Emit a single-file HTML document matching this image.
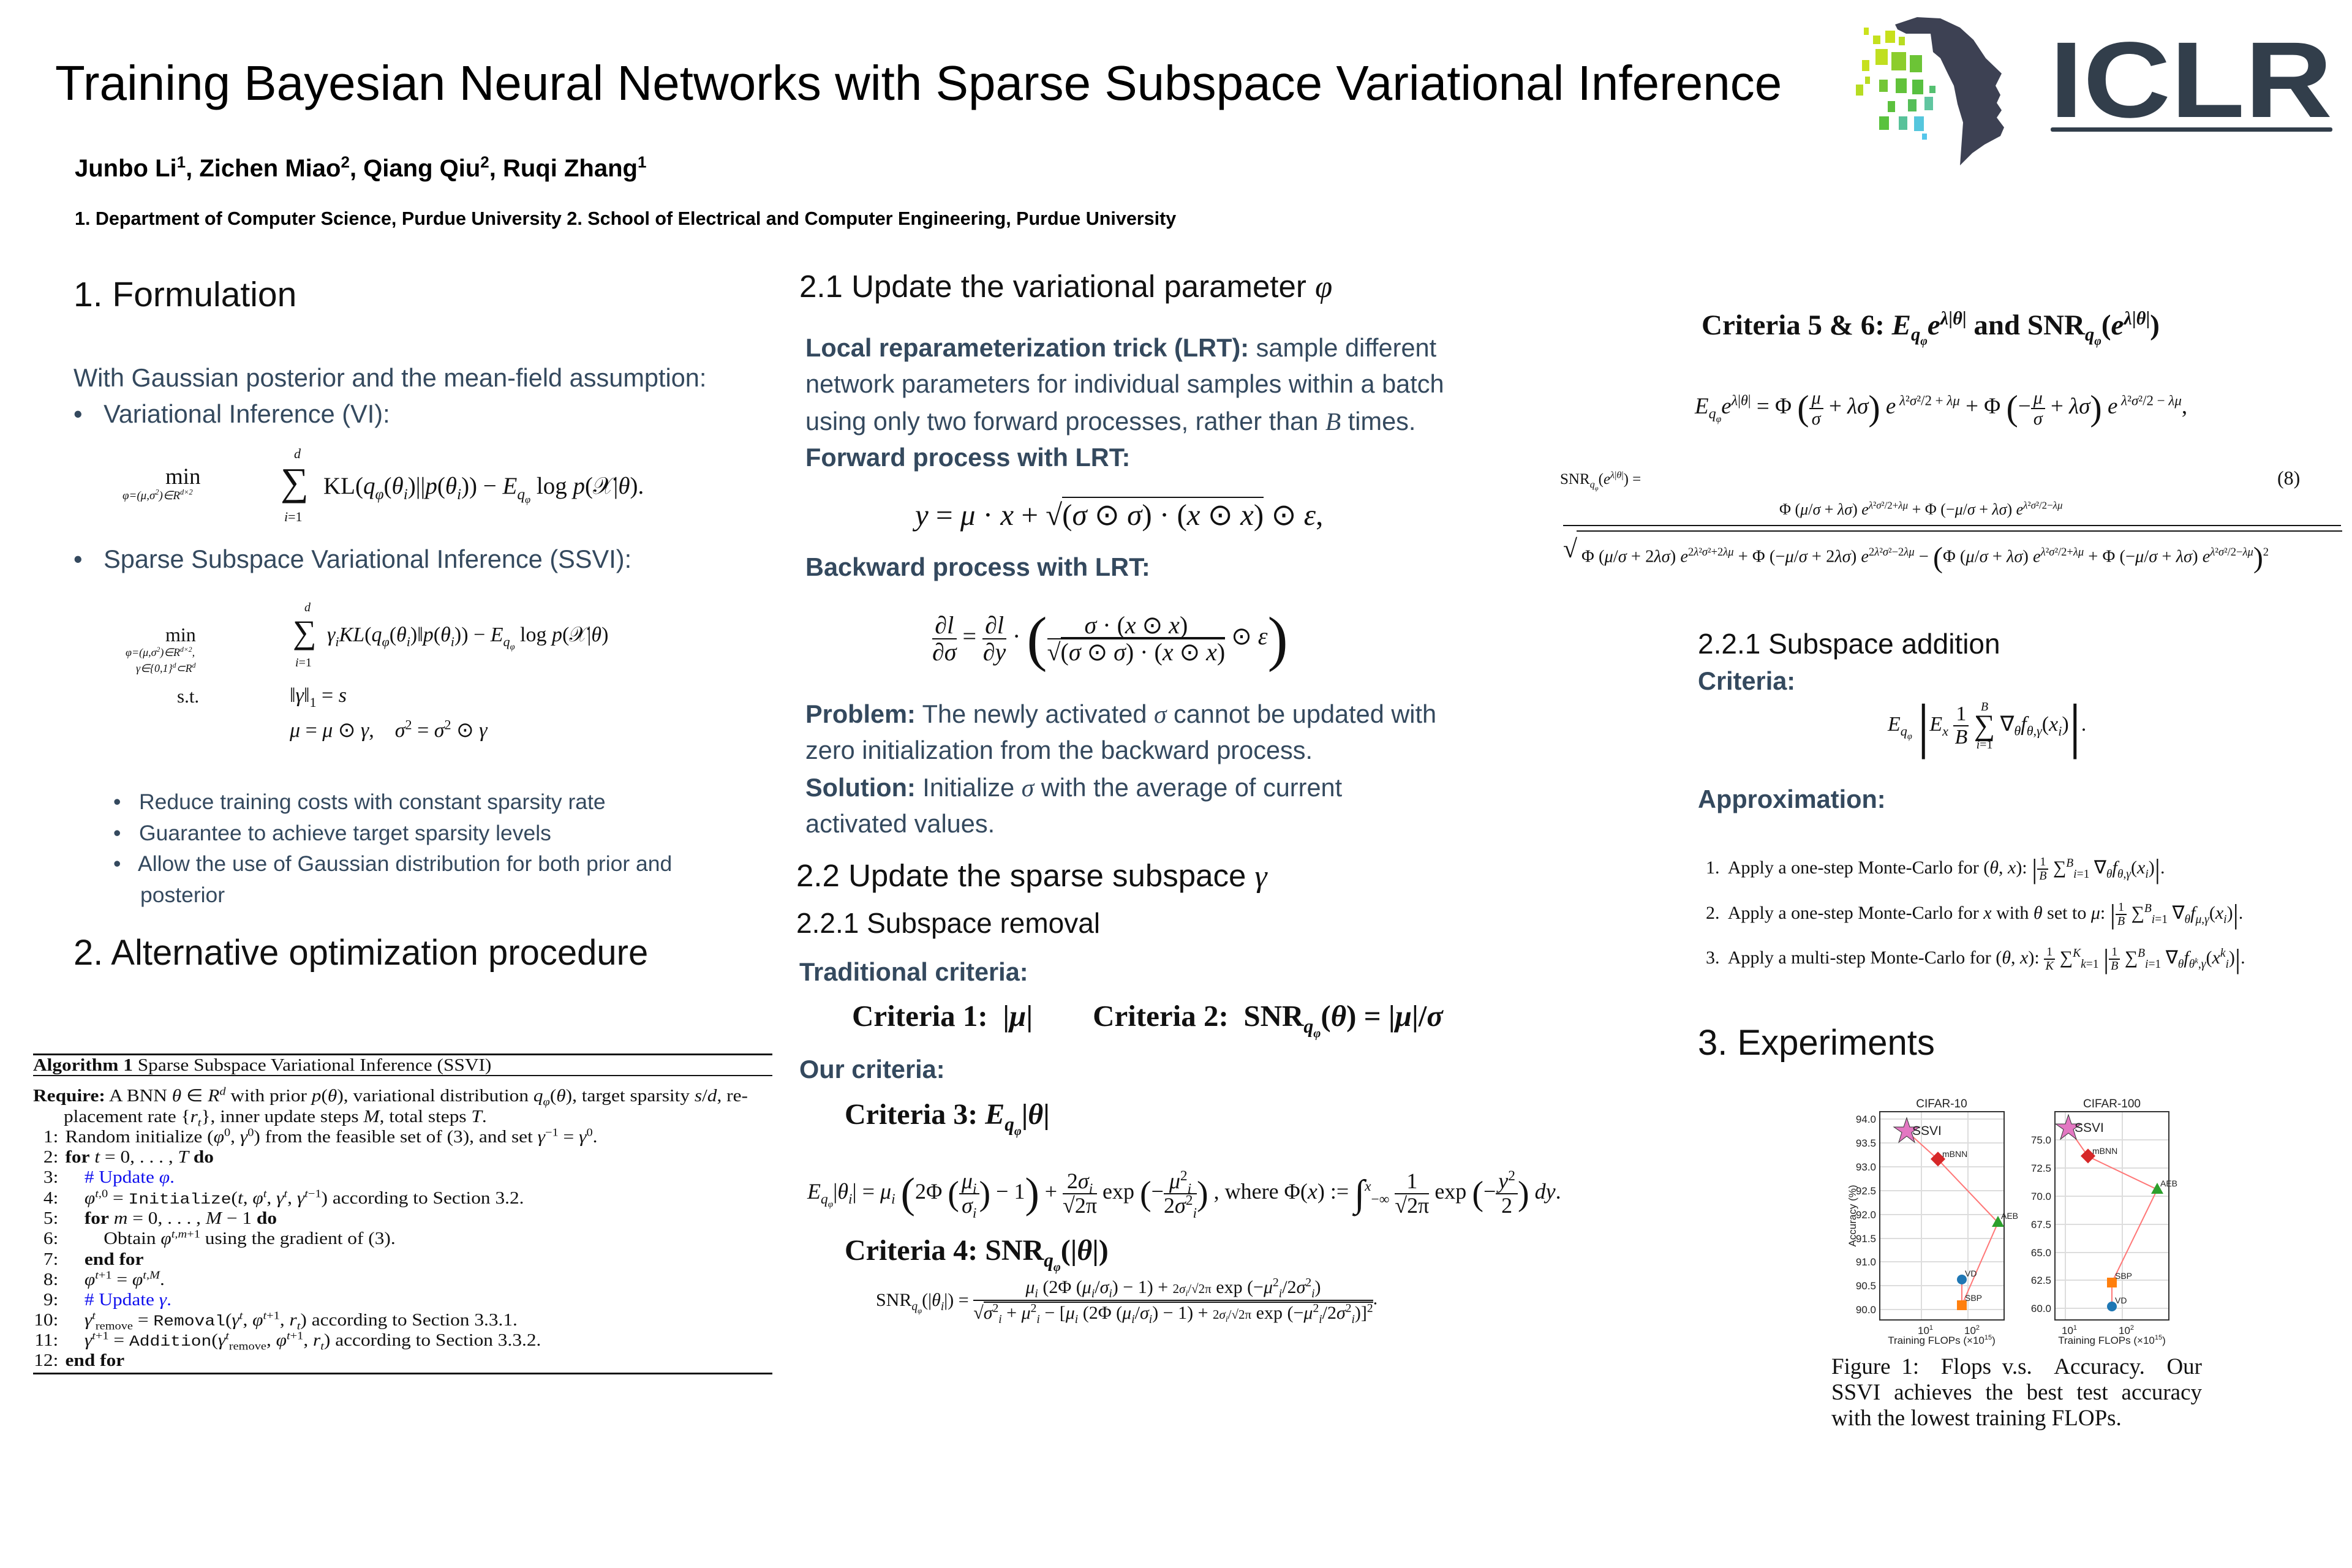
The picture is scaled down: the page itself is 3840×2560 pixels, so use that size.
<!DOCTYPE html>
<html><head><meta charset="utf-8">
<style>
html,body{margin:0;padding:0;background:#fff}
body{width:3840px;height:2560px;position:relative;overflow:hidden;font-family:"Liberation Sans",sans-serif;color:#2e3d4a}
.t{position:absolute;white-space:nowrap;line-height:1}
.s{font-family:"Liberation Serif",serif;color:#111}
.i{font-style:italic}
.b{font-weight:bold}
.h{color:#34495e;font-weight:bold}
.fr{display:inline-flex;flex-direction:column;vertical-align:middle;text-align:center;line-height:1.05}
.fr>span:first-child{border-bottom:2px solid #111;padding:0 4px}
sub,sup{font-size:65%;line-height:0}
.alg{position:absolute;left:54px;font-family:"Liberation Serif",serif;font-size:28px;color:#111;white-space:nowrap;line-height:1;transform:scaleX(1.12);transform-origin:0 0}
.ln{display:inline-block;width:44px;text-align:right;margin-right:10px}
.blue{color:#1010ee}
.mono{font-family:"Liberation Mono",monospace;font-size:25px}
.rule{position:absolute;background:#111}
.cap{position:absolute;left:2990px;width:605px;font-family:"Liberation Serif",serif;font-size:37px;color:#111;text-align:justify;text-align-last:justify;line-height:1;white-space:nowrap}
</style></head><body>

<!-- Title -->
<div class="t" style="left:90px;top:96px;font-size:80px;color:#000">Training Bayesian Neural Networks with Sparse Subspace Variational Inference</div>
<div class="t b" style="left:122px;top:255px;font-size:40px;color:#000">Junbo Li<sup>1</sup>, Zichen Miao<sup>2</sup>, Qiang Qiu<sup>2</sup>, Ruqi Zhang<sup>1</sup></div>
<div class="t b" style="left:122px;top:342px;font-size:30.5px;color:#000">1. Department of Computer Science, Purdue University 2. School of Electrical and Computer Engineering, Purdue University</div>

<!-- Logo -->
<svg style="position:absolute;left:0;top:0" width="3840" height="2560">
 <path d="M3094,40 L3130,28 L3168,30 L3200,45 L3222,65 L3242,95 L3268,120 L3258,140 L3266,155 L3260,168 L3268,180 L3260,192 L3272,208 L3266,222 L3240,236 L3220,250 L3200,270 L3205,200 L3196,170 L3190,140 L3180,120 L3168,95 L3156,85 L3152,55 L3112,55 L3098,48 Z" fill="#3d4153"/>
 <g>
  <rect x="3043" y="45" width="8" height="12" fill="#cbe21c"/>
  <rect x="3058" y="58" width="12" height="14" fill="#c4e01e"/>
  <rect x="3078" y="50" width="16" height="20" fill="#c8e01b"/>
  <rect x="3100" y="60" width="10" height="14" fill="#b8dc22"/>
  <rect x="3062" y="80" width="20" height="26" fill="#c0df20"/>
  <rect x="3088" y="85" width="24" height="30" fill="#8ccd2c"/>
  <rect x="3118" y="90" width="20" height="28" fill="#6cc436"/>
  <rect x="3040" y="98" width="12" height="18" fill="#c6e01c"/>
  <rect x="3045" y="125" width="8" height="12" fill="#b9dc22"/>
  <rect x="3030" y="138" width="12" height="18" fill="#b6dc22"/>
  <rect x="3068" y="130" width="14" height="20" fill="#73c635"/>
  <rect x="3095" y="128" width="18" height="24" fill="#62c23a"/>
  <rect x="3122" y="130" width="18" height="24" fill="#58c040"/>
  <rect x="3150" y="140" width="10" height="12" fill="#55c070"/>
  <rect x="3082" y="165" width="12" height="18" fill="#5cc13d"/>
  <rect x="3115" y="162" width="14" height="20" fill="#55be58"/>
  <rect x="3142" y="158" width="14" height="22" fill="#60c5a0"/>
  <rect x="3068" y="190" width="16" height="22" fill="#5ac23e"/>
  <rect x="3100" y="190" width="14" height="22" fill="#58c29a"/>
  <rect x="3125" y="190" width="16" height="24" fill="#55c6dd"/>
  <rect x="3138" y="218" width="8" height="10" fill="#55c6ea"/>
 </g>
 <text x="3346" y="191" font-family="Liberation Sans" font-weight="bold" font-size="176" fill="#323e4b" textLength="462" lengthAdjust="spacingAndGlyphs">ICLR</text>
 <rect x="3348" y="208" width="460" height="7" rx="3" fill="#323e4b"/>

 <!-- charts -->
 <g font-family="Liberation Sans" fill="#222">
  <g stroke="#ddd" stroke-width="2">
   <line x1="3069" x2="3272" y1="1827" y2="1827"/><line x1="3069" x2="3272" y1="1866" y2="1866"/>
   <line x1="3069" x2="3272" y1="1905" y2="1905"/><line x1="3069" x2="3272" y1="1944" y2="1944"/>
   <line x1="3069" x2="3272" y1="1983" y2="1983"/><line x1="3069" x2="3272" y1="2022" y2="2022"/>
   <line x1="3069" x2="3272" y1="2060" y2="2060"/><line x1="3069" x2="3272" y1="2099" y2="2099"/>
   <line x1="3069" x2="3272" y1="2138" y2="2138"/>
   <line x1="3137" x2="3137" y1="1815" y2="2155"/><line x1="3213" x2="3213" y1="1815" y2="2155"/>
  </g>
  <rect x="3069" y="1815" width="203" height="340" fill="none" stroke="#333" stroke-width="2"/>
  <text x="3170" y="1808" font-size="19" text-anchor="middle">CIFAR-10</text>
  <g font-size="17" text-anchor="end">
   <text x="3063" y="1833">94.0</text><text x="3063" y="1872">93.5</text><text x="3063" y="1911">93.0</text>
   <text x="3063" y="1950">92.5</text><text x="3063" y="1989">92.0</text><text x="3063" y="2028">91.5</text>
   <text x="3063" y="2066">91.0</text><text x="3063" y="2105">90.5</text><text x="3063" y="2144">90.0</text>
  </g>
  <text transform="translate(3030,1985) rotate(-90)" font-size="17" text-anchor="middle">Accuracy (%)</text>
  <text x="3131" y="2178" font-size="17">10<tspan font-size="11" dy="-7">1</tspan></text>
  <text x="3207" y="2178" font-size="17">10<tspan font-size="11" dy="-7">2</tspan></text>
  <text x="3170" y="2194" font-size="17" text-anchor="middle">Training FLOPs (×10<tspan font-size="11" dy="-7">15</tspan><tspan dy="7">)</tspan></text>
  <polyline points="3113,1847 3164,1893 3262,1996 3203,2131 3203,2089" fill="none" stroke="#f77" stroke-width="2"/>
  <polygon points="3113,1825 3118,1840 3134,1840 3121,1849 3126,1865 3113,1855 3100,1865 3105,1849 3092,1840 3108,1840" fill="#e377c2" stroke="#333" stroke-width="1"/>
  <rect x="3155" y="1884" width="17" height="17" fill="#d62728" transform="rotate(45 3164 1893)"/>
  <polygon points="3262,1985 3272,2003 3252,2003" fill="#2ca02c"/>
  <circle cx="3203" cy="2089" r="8" fill="#1f77b4"/>
  <rect x="3195" y="2123" width="16" height="16" fill="#ff7f0e"/>
  <text x="3122" y="1853" font-size="21">SSVI</text>
  <text x="3171" y="1889" font-size="14">mBNN</text>
  <text x="3267" y="1990" font-size="14">AEB</text>
  <text x="3208" y="2084" font-size="14">VD</text>
  <text x="3208" y="2124" font-size="14">SBP</text>

  <g stroke="#ddd" stroke-width="2">
   <line x1="3355" x2="3541" y1="1861" y2="1861"/><line x1="3355" x2="3541" y1="1907" y2="1907"/>
   <line x1="3355" x2="3541" y1="1953" y2="1953"/><line x1="3355" x2="3541" y1="1999" y2="1999"/>
   <line x1="3355" x2="3541" y1="2045" y2="2045"/><line x1="3355" x2="3541" y1="2090" y2="2090"/>
   <line x1="3355" x2="3541" y1="2136" y2="2136"/>
   <line x1="3372" x2="3372" y1="1815" y2="2155"/><line x1="3465" x2="3465" y1="1815" y2="2155"/>
  </g>
  <rect x="3355" y="1815" width="186" height="340" fill="none" stroke="#333" stroke-width="2"/>
  <text x="3448" y="1808" font-size="19" text-anchor="middle">CIFAR-100</text>
  <g font-size="17" text-anchor="end">
   <text x="3349" y="1867">75.0</text><text x="3349" y="1913">72.5</text><text x="3349" y="1959">70.0</text>
   <text x="3349" y="2005">67.5</text><text x="3349" y="2051">65.0</text><text x="3349" y="2096">62.5</text>
   <text x="3349" y="2142">60.0</text>
  </g>
  <text x="3366" y="2178" font-size="17">10<tspan font-size="11" dy="-7">1</tspan></text>
  <text x="3459" y="2178" font-size="17">10<tspan font-size="11" dy="-7">2</tspan></text>
  <text x="3448" y="2194" font-size="17" text-anchor="middle">Training FLOPs (×10<tspan font-size="11" dy="-7">15</tspan><tspan dy="7">)</tspan></text>
  <polyline points="3377,1842 3409,1888 3522,1942 3448,2094 3448,2133" fill="none" stroke="#f77" stroke-width="2"/>
  <polygon points="3377,1820 3382,1835 3398,1835 3385,1844 3390,1860 3377,1850 3364,1860 3369,1844 3356,1835 3372,1835" fill="#e377c2" stroke="#333" stroke-width="1"/>
  <rect x="3400" y="1879" width="17" height="17" fill="#d62728" transform="rotate(45 3409 1888)"/>
  <polygon points="3522,1931 3532,1949 3512,1949" fill="#2ca02c"/>
  <rect x="3440" y="2086" width="16" height="16" fill="#ff7f0e"/>
  <circle cx="3448" cy="2133" r="8" fill="#1f77b4"/>
  <text x="3387" y="1848" font-size="21">SSVI</text>
  <text x="3416" y="1884" font-size="14">mBNN</text>
  <text x="3527" y="1937" font-size="14">AEB</text>
  <text x="3453" y="2088" font-size="14">SBP</text>
  <text x="3453" y="2128" font-size="14">VD</text>
 </g>
</svg>

<!-- Left column -->
<div class="t" style="left:120px;top:453px;font-size:57px;color:#111">1. Formulation</div>
<div class="t" style="left:120px;top:596px;font-size:41.5px;color:#34495e">With Gaussian posterior and the mean-field assumption:</div>
<div class="t" style="left:120px;top:655px;font-size:41.5px;color:#34495e">•&nbsp;&nbsp; Variational Inference (VI):</div>

<div class="t s" style="left:270px;top:760px;font-size:37px">min</div>
<div class="t s i" style="left:200px;top:800px;font-size:19px">φ=(μ,σ<sup>2</sup>)∈R<sup>d×2</sup></div>
<div class="t s" style="left:458px;top:755px;font-size:64px">∑</div>
<div class="t s i" style="left:480px;top:730px;font-size:22px">d</div>
<div class="t s" style="left:464px;top:833px;font-size:22px"><i>i</i>=1</div>
<div class="t s" style="left:528px;top:774px;font-size:39px">KL(<i>q<sub>φ</sub></i>(<i>θ<sub>i</sub></i>)||<i>p</i>(<i>θ<sub>i</sub></i>)) − <i>E<sub>q<sub>φ</sub></sub></i> log <i>p</i>(𝒳|<i>θ</i>).</div>

<div class="t" style="left:120px;top:892px;font-size:41.5px;color:#34495e">•&nbsp;&nbsp; Sparse Subspace Variational Inference (SSVI):</div>
<div class="t s" style="left:270px;top:1020px;font-size:32px">min</div>
<div class="t s i" style="left:205px;top:1056px;font-size:18px">φ=(μ,σ<sup>2</sup>)∈R<sup>d×2</sup>,</div>
<div class="t s i" style="left:222px;top:1082px;font-size:18px">γ∈{0,1}<sup>d</sup>⊂R<sup>d</sup></div>
<div class="t s" style="left:478px;top:1005px;font-size:54px">∑</div>
<div class="t s i" style="left:497px;top:982px;font-size:20px">d</div>
<div class="t s" style="left:482px;top:1072px;font-size:20px"><i>i</i>=1</div>
<div class="t s" style="left:534px;top:1020px;font-size:34px"><i>γ<sub>i</sub>KL</i>(<i>q<sub>φ</sub></i>(<i>θ<sub>i</sub></i>)‖<i>p</i>(<i>θ<sub>i</sub></i>)) − <i>E<sub>q<sub>φ</sub></sub></i> log <i>p</i>(𝒳|<i>θ</i>)</div>
<div class="t s" style="left:289px;top:1121px;font-size:31px">s.t.</div>
<div class="t s" style="left:473px;top:1119px;font-size:34px">‖<i>γ</i>‖<sub>1</sub> = <i>s</i></div>
<div class="t s" style="left:473px;top:1176px;font-size:34px"><i>μ</i> = <i>μ</i> ⊙ <i>γ</i>,&nbsp;&nbsp;&nbsp; <i>σ</i><sup>2</sup> = <i>σ</i><sup>2</sup> ⊙ <i>γ</i></div>

<div class="t" style="left:185px;top:1292px;font-size:35.5px;color:#34495e">•&nbsp;&nbsp; Reduce training costs with constant sparsity rate</div>
<div class="t" style="left:185px;top:1343px;font-size:35.5px;color:#34495e">•&nbsp;&nbsp; Guarantee to achieve target sparsity levels</div>
<div class="t" style="left:185px;top:1393px;font-size:35.5px;color:#34495e">•&nbsp;&nbsp; Allow the use of Gaussian distribution for both prior and</div>
<div class="t" style="left:229px;top:1444px;font-size:35.5px;color:#34495e">posterior</div>

<div class="t" style="left:120px;top:1527px;font-size:58px;color:#111">2. Alternative optimization procedure</div>

<!-- Algorithm -->
<div class="rule" style="left:54px;top:1720px;width:1207px;height:3px"></div>
<div class="alg" style="top:1726px"><b>Algorithm 1</b> Sparse Subspace Variational Inference (SSVI)</div>
<div class="rule" style="left:54px;top:1755px;width:1207px;height:2px"></div>
<div class="alg" style="top:1776px"><b>Require:</b> A BNN <i>θ</i> ∈ <i>R<sup>d</sup></i> with prior <i>p</i>(<i>θ</i>), variational distribution <i>q<sub>φ</sub></i>(<i>θ</i>), target sparsity <i>s</i>/<i>d</i>, re-</div>
<div class="alg" style="top:1810px;left:104px">placement rate {<i>r<sub>t</sub></i>}, inner update steps <i>M</i>, total steps <i>T</i>.</div>
<div class="alg" style="top:1843px;left:46px"><span class="ln">1:</span>Random initialize (<i>φ</i><sup>0</sup>, <i>γ</i><sup>0</sup>) from the feasible set of (3), and set <i>γ</i><sup>−1</sup> = <i>γ</i><sup>0</sup>.</div>
<div class="alg" style="top:1876px;left:46px"><span class="ln">2:</span><b>for</b> <i>t</i> = 0, . . . , <i>T</i> <b>do</b></div>
<div class="alg" style="top:1909px;left:46px"><span class="ln">3:</span>&nbsp;&nbsp;&nbsp;&nbsp;<span class="blue"># Update <i>φ</i>.</span></div>
<div class="alg" style="top:1943px;left:46px"><span class="ln">4:</span>&nbsp;&nbsp;&nbsp;&nbsp;<i>φ</i><sup><i>t</i>,0</sup> = <span class="mono">Initialize</span>(<i>t</i>, <i>φ<sup>t</sup></i>, <i>γ<sup>t</sup></i>, <i>γ</i><sup><i>t</i>−1</sup>) according to Section 3.2.</div>
<div class="alg" style="top:1976px;left:46px"><span class="ln">5:</span>&nbsp;&nbsp;&nbsp;&nbsp;<b>for</b> <i>m</i> = 0, . . . , <i>M</i> − 1 <b>do</b></div>
<div class="alg" style="top:2009px;left:46px"><span class="ln">6:</span>&nbsp;&nbsp;&nbsp;&nbsp;&nbsp;&nbsp;&nbsp;&nbsp;Obtain <i>φ</i><sup><i>t</i>,<i>m</i>+1</sup> using the gradient of (3).</div>
<div class="alg" style="top:2043px;left:46px"><span class="ln">7:</span>&nbsp;&nbsp;&nbsp;&nbsp;<b>end for</b></div>
<div class="alg" style="top:2076px;left:46px"><span class="ln">8:</span>&nbsp;&nbsp;&nbsp;&nbsp;<i>φ</i><sup><i>t</i>+1</sup> = <i>φ</i><sup><i>t</i>,<i>M</i></sup>.</div>
<div class="alg" style="top:2109px;left:46px"><span class="ln">9:</span>&nbsp;&nbsp;&nbsp;&nbsp;<span class="blue"># Update <i>γ</i>.</span></div>
<div class="alg" style="top:2142px;left:46px"><span class="ln">10:</span>&nbsp;&nbsp;&nbsp;&nbsp;<i>γ</i><sup><i>t</i></sup><sub>remove</sub> = <span class="mono">Removal</span>(<i>γ<sup>t</sup></i>, <i>φ</i><sup><i>t</i>+1</sup>, <i>r<sub>t</sub></i>) according to Section 3.3.1.</div>
<div class="alg" style="top:2175px;left:46px"><span class="ln">11:</span>&nbsp;&nbsp;&nbsp;&nbsp;<i>γ</i><sup><i>t</i>+1</sup> = <span class="mono">Addition</span>(<i>γ</i><sup><i>t</i></sup><sub>remove</sub>, <i>φ</i><sup><i>t</i>+1</sup>, <i>r<sub>t</sub></i>) according to Section 3.3.2.</div>
<div class="alg" style="top:2208px;left:46px"><span class="ln">12:</span><b>end for</b></div>
<div class="rule" style="left:54px;top:2241px;width:1207px;height:3px"></div>

<!-- Middle column -->
<div class="t" style="left:1305px;top:442px;font-size:51px;color:#111">2.1 Update the variational parameter <i class="s">φ</i></div>
<div class="t" style="left:1315px;top:547px;font-size:41.5px;color:#34495e"><b>Local reparameterization trick (LRT):</b> sample different</div>
<div class="t" style="left:1315px;top:606px;font-size:41.5px;color:#34495e">network parameters for individual samples within a batch</div>
<div class="t" style="left:1315px;top:667px;font-size:41.5px;color:#34495e">using only two forward processes, rather than <i class="s" style="color:#34495e">B</i> times.</div>
<div class="t h" style="left:1315px;top:726px;font-size:41.5px">Forward process with LRT:</div>
<div class="t s" style="left:1494px;top:816px;font-size:49px"><i>y</i> = <i>μ</i> · <i>x</i> + √<span style="border-top:2px solid #111">(<i>σ</i> ⊙ <i>σ</i>) · (<i>x</i> ⊙ <i>x</i>)</span> ⊙ <i>ε</i>,</div>
<div class="t h" style="left:1315px;top:905px;font-size:41.5px">Backward process with LRT:</div>
<div class="t s" style="left:1522px;top:988px;font-size:40px;line-height:1.1"><span class="fr"><span>∂<i>l</i></span><span>∂<i>σ</i></span></span> = <span class="fr"><span>∂<i>l</i></span><span>∂<i>y</i></span></span> · <span style="font-size:100px;vertical-align:middle;font-weight:100">(</span><span class="fr"><span><i>σ</i> · (<i>x</i> ⊙ <i>x</i>)</span><span>√<span style="border-top:2px solid #111">(<i>σ</i> ⊙ <i>σ</i>) · (<i>x</i> ⊙ <i>x</i>)</span></span></span> ⊙ <i>ε</i><span style="font-size:100px;vertical-align:middle;font-weight:100">)</span></div>
<div class="t" style="left:1315px;top:1145px;font-size:41.5px;color:#34495e"><b>Problem:</b> The newly activated <i class="s" style="color:#34495e">σ</i> cannot be updated with</div>
<div class="t" style="left:1315px;top:1204px;font-size:41.5px;color:#34495e">zero initialization from the backward process.</div>
<div class="t" style="left:1315px;top:1265px;font-size:41.5px;color:#34495e"><b>Solution:</b> Initialize <i class="s" style="color:#34495e">σ</i> with the average of current</div>
<div class="t" style="left:1315px;top:1324px;font-size:41.5px;color:#34495e">activated values.</div>

<div class="t" style="left:1300px;top:1404px;font-size:51px;color:#111">2.2 Update the sparse subspace <i class="s">γ</i></div>
<div class="t" style="left:1300px;top:1484px;font-size:46px;color:#111">2.2.1 Subspace removal</div>
<div class="t h" style="left:1305px;top:1566px;font-size:41.5px">Traditional criteria:</div>
<div class="t s b" style="left:1391px;top:1634px;font-size:49px">Criteria 1: &nbsp;|<i>μ</i>| &nbsp;&nbsp;&nbsp;&nbsp;&nbsp;&nbsp; Criteria 2: &nbsp;SNR<sub><i>q<sub>φ</sub></i></sub>(<i>θ</i>) = |<i>μ</i>|/<i>σ</i></div>
<div class="t h" style="left:1305px;top:1725px;font-size:41.5px">Our criteria:</div>
<div class="t s b" style="left:1379px;top:1796px;font-size:48px">Criteria 3: <i>E<sub>q<sub>φ</sub></sub></i>|<i>θ</i>|</div>
<div class="t s" style="left:1318px;top:1910px;font-size:36px"><i>E<sub>q<sub>φ</sub></sub></i>|<i>θ<sub>i</sub></i>| = <i>μ<sub>i</sub></i> <span style="font-size:70px;vertical-align:middle">(</span>2Φ <span style="font-size:56px;vertical-align:middle">(</span><span class="fr"><span><i>μ<sub>i</sub></i></span><span><i>σ<sub>i</sub></i></span></span><span style="font-size:56px;vertical-align:middle">)</span> − 1<span style="font-size:70px;vertical-align:middle">)</span> + <span class="fr"><span>2<i>σ<sub>i</sub></i></span><span>√2π</span></span> exp <span style="font-size:56px;vertical-align:middle">(</span>−<span class="fr"><span><i>μ</i><sup>2</sup><sub><i>i</i></sub></span><span>2<i>σ</i><sup>2</sup><sub><i>i</i></sub></span></span><span style="font-size:56px;vertical-align:middle">)</span> , where Φ(<i>x</i>) := <span style="font-size:62px;vertical-align:middle">∫</span><sup><i>x</i></sup><sub>−∞</sub> <span class="fr"><span>1</span><span>√2π</span></span> exp <span style="font-size:56px;vertical-align:middle">(</span>−<span class="fr"><span><i>y</i><sup>2</sup></span><span>2</span></span><span style="font-size:56px;vertical-align:middle">)</span> <i>dy</i>.</div>
<div class="t s b" style="left:1379px;top:2018px;font-size:48px">Criteria 4: SNR<sub><i>q<sub>φ</sub></i></sub>(|<i>θ</i>|)</div>
<div class="t s" style="left:1430px;top:2086px;font-size:30px;line-height:1.3"><span style="vertical-align:middle">SNR<sub><i>q<sub>φ</sub></i></sub>(|<i>θ<sub>i</sub></i>|) =</span> <span class="fr"><span style="padding-bottom:4px"><i>μ<sub>i</sub></i> (2Φ (<i>μ<sub>i</sub></i>/<i>σ<sub>i</sub></i>) − 1) + <span style="font-size:21px">2<i>σ<sub>i</sub></i>/√2π</span> exp (−<i>μ</i><sup>2</sup><sub><i>i</i></sub>/2<i>σ</i><sup>2</sup><sub><i>i</i></sub>)</span><span style="padding-top:4px">√<span style="border-top:2px solid #111"><i>σ</i><sup>2</sup><sub><i>i</i></sub> + <i>μ</i><sup>2</sup><sub><i>i</i></sub> − [<i>μ<sub>i</sub></i> (2Φ (<i>μ<sub>i</sub></i>/<i>σ<sub>i</sub></i>) − 1) + <span style="font-size:21px">2<i>σ<sub>i</sub></i>/√2π</span> exp (−<i>μ</i><sup>2</sup><sub><i>i</i></sub>/2<i>σ</i><sup>2</sup><sub><i>i</i></sub>)]<sup>2</sup></span></span></span>.</div>

<!-- Right column -->
<div class="t s b" style="left:2778px;top:508px;font-size:47px">Criteria 5 &amp; 6: <i>E<sub>q<sub>φ</sub></sub>e</i><sup><i>λ</i>|<i>θ</i>|</sup> and SNR<sub><i>q<sub>φ</sub></i></sub>(<i>e</i><sup><i>λ</i>|<i>θ</i>|</sup>)</div>
<div class="t s" style="left:2767px;top:634px;font-size:37px"><i>E<sub>q<sub>φ</sub></sub>e</i><sup><i>λ</i>|<i>θ</i>|</sup> = Φ <span style="font-size:58px;vertical-align:middle">(</span><span class="fr" style="font-size:30px"><span><i>μ</i></span><span><i>σ</i></span></span> + <i>λσ</i><span style="font-size:58px;vertical-align:middle">)</span> <i>e</i><sup style="font-size:62%">&nbsp;<i>λ</i>²<i>σ</i>²/2 + <i>λμ</i></sup> + Φ <span style="font-size:58px;vertical-align:middle">(</span>−<span class="fr" style="font-size:30px"><span><i>μ</i></span><span><i>σ</i></span></span> + <i>λσ</i><span style="font-size:58px;vertical-align:middle">)</span> <i>e</i><sup style="font-size:62%">&nbsp;<i>λ</i>²<i>σ</i>²/2 − <i>λμ</i></sup>,</div>
<div class="t s" style="left:2547px;top:770px;font-size:25px">SNR<sub><i>q<sub>φ</sub></i></sub>(<i>e</i><sup><i>λ</i>|<i>θ</i>|</sup>) =</div>
<div class="t s" style="left:3718px;top:764px;font-size:32px">(8)</div>
<div class="t s" style="left:2905px;top:819px;font-size:26px">Φ (<i>μ</i>/<i>σ</i> + <i>λσ</i>) <i>e</i><sup><i>λ</i>²<i>σ</i>²/2+<i>λμ</i></sup> + Φ (−<i>μ</i>/<i>σ</i> + <i>λσ</i>) <i>e</i><sup><i>λ</i>²<i>σ</i>²/2−<i>λμ</i></sup></div>
<div class="rule" style="left:2552px;top:857px;width:1270px;height:2px"></div>
<div class="t s" style="left:2552px;top:876px;font-size:42px">√</div>
<div class="rule" style="left:2574px;top:866px;width:1250px;height:2px"></div>
<div class="t s" style="left:2582px;top:887px;font-size:28.5px">Φ (<i>μ</i>/<i>σ</i> + 2<i>λσ</i>) <i>e</i><sup>2<i>λ</i>²<i>σ</i>²+2<i>λμ</i></sup> + Φ (−<i>μ</i>/<i>σ</i> + 2<i>λσ</i>) <i>e</i><sup>2<i>λ</i>²<i>σ</i>²−2<i>λμ</i></sup> − <span style="font-size:48px;vertical-align:middle">(</span>Φ (<i>μ</i>/<i>σ</i> + <i>λσ</i>) <i>e</i><sup><i>λ</i>²<i>σ</i>²/2+<i>λμ</i></sup> + Φ (−<i>μ</i>/<i>σ</i> + <i>λσ</i>) <i>e</i><sup><i>λ</i>²<i>σ</i>²/2−<i>λμ</i></sup><span style="font-size:48px;vertical-align:middle">)</span><sup>2</sup></div>

<div class="t" style="left:2772px;top:1028px;font-size:46px;color:#111">2.2.1 Subspace addition</div>
<div class="t h" style="left:2772px;top:1091px;font-size:41.5px">Criteria:</div>
<div class="t s" style="left:3082px;top:1130px;font-size:34px;line-height:1.1"><i>E<sub>q<sub>φ</sub></sub></i> <span style="font-size:100px;vertical-align:middle;font-weight:100">|</span><i>E<sub>x</sub></i> <span class="fr"><span>1</span><span><i>B</i></span></span> <span style="display:inline-flex;flex-direction:column;vertical-align:middle;text-align:center;line-height:0.9"><span style="font-size:20px"><i>B</i></span><span style="font-size:48px">∑</span><span style="font-size:20px"><i>i</i>=1</span></span> ∇<sub><i>θ</i></sub><i>f</i><sub><i>θ</i>,<i>γ</i></sub>(<i>x<sub>i</sub></i>)<span style="font-size:100px;vertical-align:middle;font-weight:100">|</span>.</div>
<div class="t h" style="left:2772px;top:1284px;font-size:41.5px">Approximation:</div>
<div class="t s" style="left:2785px;top:1396px;font-size:30px">1.&nbsp; Apply a one-step Monte-Carlo for (<i>θ</i>, <i>x</i>): <span style="font-size:46px;vertical-align:middle">|</span><span class="fr" style="font-size:20px"><span>1</span><span><i>B</i></span></span> ∑<sup><i>B</i></sup><sub><i>i</i>=1</sub> ∇<sub><i>θ</i></sub><i>f</i><sub><i>θ</i>,<i>γ</i></sub>(<i>x<sub>i</sub></i>)<span style="font-size:46px;vertical-align:middle">|</span>.</div>
<div class="t s" style="left:2785px;top:1470px;font-size:30px">2.&nbsp; Apply a one-step Monte-Carlo for <i>x</i> with <i>θ</i> set to <i>μ</i>: <span style="font-size:46px;vertical-align:middle">|</span><span class="fr" style="font-size:20px"><span>1</span><span><i>B</i></span></span> ∑<sup><i>B</i></sup><sub><i>i</i>=1</sub> ∇<sub><i>θ</i></sub><i>f</i><sub><i>μ</i>,<i>γ</i></sub>(<i>x<sub>i</sub></i>)<span style="font-size:46px;vertical-align:middle">|</span>.</div>
<div class="t s" style="left:2785px;top:1543px;font-size:30px">3.&nbsp; Apply a multi-step Monte-Carlo for (<i>θ</i>, <i>x</i>): <span class="fr" style="font-size:20px"><span>1</span><span><i>K</i></span></span> ∑<sup><i>K</i></sup><sub><i>k</i>=1</sub> <span style="font-size:46px;vertical-align:middle">|</span><span class="fr" style="font-size:20px"><span>1</span><span><i>B</i></span></span> ∑<sup><i>B</i></sup><sub><i>i</i>=1</sub> ∇<sub><i>θ</i></sub><i>f</i><sub><i>θ<sup>k</sup></i>,<i>γ</i></sub>(<i>x</i><sup><i>k</i></sup><sub><i>i</i></sub>)<span style="font-size:46px;vertical-align:middle">|</span>.</div>

<div class="t" style="left:2772px;top:1674px;font-size:58px;color:#111">3. Experiments</div>

<div class="cap" style="top:2213px">Figure 1: &nbsp;Flops v.s. &nbsp;Accuracy. &nbsp;Our</div>
<div class="cap" style="top:2255px">SSVI achieves the best test accuracy</div>
<div class="cap" style="top:2297px;width:auto;text-align-last:auto">with the lowest training FLOPs.</div>

</body></html>
